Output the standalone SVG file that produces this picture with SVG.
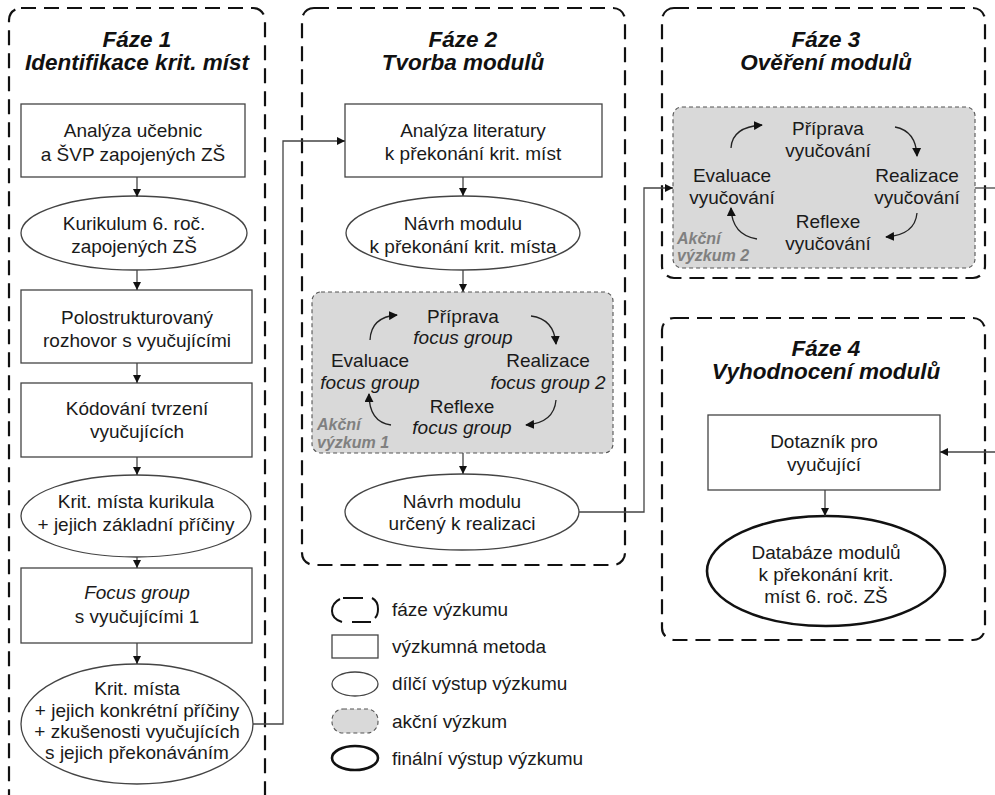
<svg xmlns="http://www.w3.org/2000/svg" width="995" height="795" viewBox="0 0 995 795">
<defs>
<marker id="ah" viewBox="0 0 10 10" refX="10" refY="5" markerWidth="8" markerHeight="8" markerUnits="userSpaceOnUse" orient="auto">
<path d="M0,0 L10,5 L0,10 z" fill="#111"/>
</marker>
<marker id="ahc" viewBox="0 0 10 10" refX="9" refY="5" markerWidth="9" markerHeight="9" markerUnits="userSpaceOnUse" orient="auto">
<path d="M0,0 L10,5 L0,10 z" fill="#111"/>
</marker>
<style>
text{font-family:"Liberation Sans",Arial,sans-serif;fill:#1a1a1a}
.t{font-size:19px;text-anchor:middle}
.it{font-style:italic}
.title{font-size:22.5px;font-weight:bold;font-style:italic;text-anchor:middle;fill:#111}
.ak{font-size:16px;font-weight:bold;font-style:italic;fill:#808080}
.lg{font-size:19px}
.phase{fill:none;stroke:#111;stroke-width:2.2;stroke-dasharray:15 8}
.lgph{fill:none;stroke:#111;stroke-width:2}
.box{fill:#fff;stroke:#444;stroke-width:1.3}
.ell{fill:#fff;stroke:#444;stroke-width:1.3}
.fin{fill:#fff;stroke:#111;stroke-width:2.6}
.act{fill:#d9d9d9;stroke:#555;stroke-width:1.1;stroke-dasharray:4 3}
.con{fill:none;stroke:#444;stroke-width:1.3}
.cyc{fill:none;stroke:#222;stroke-width:1.3}
</style>
</defs>
<rect width="995" height="795" fill="#fff"/>

<g id="phase1">
<rect class="phase" x="9" y="8" width="256" height="800" rx="12"/>
<text class="title" x="137" y="47">Fáze 1</text>
<text class="title" x="137" y="70">Identifikace krit. míst</text>
</g>
<g id="p1_analyza">
<rect class="box" x="21" y="104" width="224" height="73"/>
<text class="t" x="133" y="137">Analýza učebnic</text>
<text class="t" x="133" y="161">a ŠVP zapojených ZŠ</text>
</g>
<g id="p1_kurikulum">
<ellipse class="ell" cx="134" cy="233" rx="113" ry="37"/>
<text class="t" x="134" y="230">Kurikulum 6. roč.</text>
<text class="t" x="134" y="253">zapojených ZŠ</text>
</g>
<g id="p1_rozhovor">
<rect class="box" x="21" y="290" width="231" height="73"/>
<text class="t" x="137" y="324">Polostrukturovaný</text>
<text class="t" x="137" y="347">rozhovor s vyučujícími</text>
</g>
<g id="p1_kodovani">
<rect class="box" x="21" y="383" width="231" height="74"/>
<text class="t" x="137" y="415">Kódování tvrzení</text>
<text class="t" x="137" y="438">vyučujících</text>
</g>
<g id="p1_kritmista">
<ellipse class="ell" cx="136" cy="516" rx="115" ry="41"/>
<text class="t" x="136" y="508">Krit. místa kurikula</text>
<text class="t" x="136" y="531">+ jejich základní příčiny</text>
</g>
<g id="p1_focus">
<rect class="box" x="21" y="568" width="231" height="75"/>
<text class="t it" x="137" y="599">Focus group</text>
<text class="t" x="137" y="623">s vyučujícími 1</text>
</g>
<g id="p1_vystup">
<ellipse class="ell" cx="137" cy="724" rx="116" ry="60"/>
<text class="t" x="137" y="695">Krit. místa</text>
<text class="t" x="137" y="717">+ jejich konkrétní příčiny</text>
<text class="t" x="137" y="738">+ zkušenosti vyučujících</text>
<text class="t" x="137" y="759">s jejich překonáváním</text>
</g>

<g id="phase2">
<rect class="phase" x="302" y="8" width="323" height="557" rx="12"/>
<text class="title" x="463" y="47">Fáze 2</text>
<text class="title" x="463" y="70">Tvorba modulů</text>
</g>
<g id="p2_literatura">
<rect class="box" x="345" y="104" width="257" height="73"/>
<text class="t" x="473" y="137">Analýza literatury</text>
<text class="t" x="473" y="160">k překonání krit. míst</text>
</g>
<g id="p2_navrh">
<ellipse class="ell" cx="463" cy="233" rx="117" ry="37"/>
<text class="t" x="463" y="230">Návrh modulu</text>
<text class="t" x="463" y="253">k překonání krit. místa</text>
</g>
<g id="p2_akcni">
<rect class="act" x="312" y="292" width="301" height="161" rx="9"/>
<text class="t" x="463" y="323">Příprava</text>
<text class="t it" x="463" y="344">focus group</text>
<text class="t" x="370" y="367">Evaluace</text>
<text class="t it" x="370" y="389">focus group</text>
<text class="t" x="548" y="367">Realizace</text>
<text class="t it" x="548" y="389">focus group 2</text>
<text class="t" x="462" y="413">Reflexe</text>
<text class="t it" x="462" y="434">focus group</text>
<text class="ak" x="317" y="430">Akční</text>
<text class="ak" x="317" y="448">výzkum 1</text>
<path class="cyc" d="M370 340 Q371 317 397 315" marker-end="url(#ahc)"/>
<path class="cyc" d="M531 316 Q554 319 556 344" marker-end="url(#ahc)"/>
<path class="cyc" d="M556 400 Q554 423 526 425" marker-end="url(#ahc)"/>
<path class="cyc" d="M391 425 Q369 422 369 394" marker-end="url(#ahc)"/>
</g>
<g id="p2_realizace">
<ellipse class="ell" cx="462" cy="512" rx="117" ry="38"/>
<text class="t" x="462" y="508">Návrh modulu</text>
<text class="t" x="462" y="530">určený k realizaci</text>
</g>

<g id="phase3">
<rect class="phase" x="662" y="8" width="323" height="270" rx="12"/>
<text class="title" x="826" y="47">Fáze 3</text>
<text class="title" x="826" y="70">Ověření modulů</text>
</g>
<g id="p3_akcni">
<rect class="act" x="673" y="107" width="302" height="161" rx="9"/>
<text class="t" x="828" y="135">Příprava</text>
<text class="t" x="828" y="157">vyučování</text>
<text class="t" x="732" y="182">Evaluace</text>
<text class="t" x="732" y="204">vyučování</text>
<text class="t" x="917" y="182">Realizace</text>
<text class="t" x="917" y="204">vyučování</text>
<text class="t" x="828" y="228">Reflexe</text>
<text class="t" x="828" y="250">vyučování</text>
<text class="ak" x="677" y="244">Akční</text>
<text class="ak" x="677" y="261">výzkum 2</text>
<path class="cyc" d="M731 148 Q732 127 762 125" marker-end="url(#ahc)"/>
<path class="cyc" d="M895 127 Q916 131 917 156" marker-end="url(#ahc)"/>
<path class="cyc" d="M917 213 Q915 235 886 237" marker-end="url(#ahc)"/>
<path class="cyc" d="M757 239 Q732 235 731 208" marker-end="url(#ahc)"/>
</g>

<g id="phase4">
<rect class="phase" x="662" y="318" width="323" height="322" rx="12"/>
<text class="title" x="826" y="356">Fáze 4</text>
<text class="title" x="826" y="379">Vyhodnocení modulů</text>
</g>
<g id="p4_dotaznik">
<rect class="box" x="708" y="415" width="232" height="75"/>
<text class="t" x="824" y="448">Dotazník pro</text>
<text class="t" x="824" y="471">vyučující</text>
</g>
<g id="p4_databaze">
<ellipse class="fin" cx="826" cy="571" rx="119" ry="55"/>
<text class="t" x="826" y="559">Databáze modulů</text>
<text class="t" x="826" y="581">k překonání krit.</text>
<text class="t" x="826" y="603">míst 6. roč. ZŠ</text>
</g>

<g id="legend">
<path class="lgph" d="M343 598 H363"/>
<path class="lgph" d="M340 599 Q332 603 332 611 Q332 619 342 622"/>
<path class="lgph" d="M352 622 H371"/>
<path class="lgph" d="M372 598 Q378 601 378 609 Q378 615 375 618"/>
<text class="lg" x="392" y="616">fáze výzkumu</text>
<rect class="box" x="332" y="635" width="46" height="23"/>
<text class="lg" x="392" y="653">výzkumná metoda</text>
<ellipse class="ell" cx="355" cy="684" rx="23" ry="12"/>
<text class="lg" x="392" y="690">dílčí výstup výzkumu</text>
<rect class="act" x="332" y="709" width="46" height="24" rx="11"/>
<text class="lg" x="392" y="728">akční výzkum</text>
<ellipse class="fin" cx="355" cy="758" rx="23" ry="12"/>
<text class="lg" x="392" y="765">finální výstup výzkumu</text>
</g>

<g id="connectors">
<line class="con" x1="137" y1="177" x2="137" y2="197" marker-end="url(#ah)"/>
<line class="con" x1="137" y1="270" x2="137" y2="290" marker-end="url(#ah)"/>
<line class="con" x1="137" y1="363" x2="137" y2="383" marker-end="url(#ah)"/>
<line class="con" x1="137" y1="457" x2="137" y2="475" marker-end="url(#ah)"/>
<line class="con" x1="137" y1="557" x2="137" y2="568" marker-end="url(#ah)"/>
<line class="con" x1="137" y1="643" x2="137" y2="664" marker-end="url(#ah)"/>
<path class="con" d="M253 724 H283 V141 H345" marker-end="url(#ah)"/>
<line class="con" x1="463" y1="177" x2="463" y2="196" marker-end="url(#ah)"/>
<line class="con" x1="463" y1="270" x2="463" y2="292" marker-end="url(#ah)"/>
<line class="con" x1="463" y1="453" x2="463" y2="474" marker-end="url(#ah)"/>
<path class="con" d="M579 512 H644 V188 H673" marker-end="url(#ah)"/>
<path class="con" d="M975 188 H1000"/>
<path class="con" d="M1000 452 H940" marker-end="url(#ah)"/>
<line class="con" x1="825" y1="490" x2="825" y2="516" marker-end="url(#ah)"/>
</g>
</svg>
